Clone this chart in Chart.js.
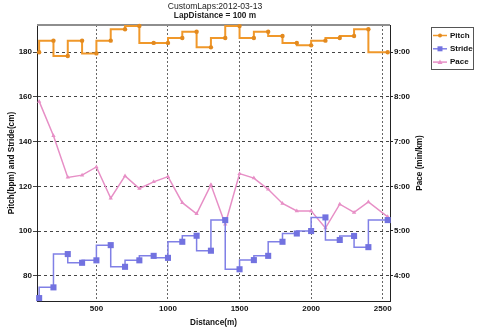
<!DOCTYPE html>
<html>
<head>
<meta charset="utf-8">
<script src="https://cdn.jsdelivr.net/npm/chart.js@4/dist/chart.umd.min.js"></script>
<style>
  html, body { margin: 0; padding: 0; background: #fff; }
</style>
</head>
<body>
<canvas id="lapChart" width="480" height="329"></canvas>
<script>
// lap end distances (m); the last lap is a partial one
const distances = [100, 200, 300, 400, 500, 600, 700, 800, 900, 1000, 1100, 1200, 1300,
  1400, 1500, 1600, 1700, 1800, 1900, 2000, 2100, 2200, 2300, 2400, 2535];
// cadence per lap (bpm)
const pitch = [180, 185.2, 178.3, 185.2, 179.5, 185.2, 190.3, 191.8, 184.2, 184.2, 186.4, 189.2, 182.2,
  186.4, 191.7, 186.4, 189.2, 187.3, 184.2, 183.1, 185.2, 186.4, 187.3, 190.3, 180];
// stride length per lap (cm)
const stride = [70, 74.8, 89.7, 85.8, 86.9, 93.7, 84, 86.9, 88.9, 88, 95.2, 97.9, 91.2,
  104.9, 82.9, 87, 88.9, 95.2, 98.9, 100, 106.1, 96, 97.8, 92.8, 104.9];
// pace per lap, seconds per km
const pace = [474, 428, 372, 375, 386, 344, 374, 357, 366, 373, 338, 323, 362,
  309, 377, 371, 356, 337, 327, 327, 304, 336, 325, 339, 319];

const distanceTicks = [500, 1000, 1500, 2000, 2500];
const leftTicks = [80, 100, 120, 140, 160, 180];
const paceTicks = [240, 300, 360, 420, 480, 540];

const titleText = 'CustomLaps:2012-03-13';
const subtitleText = 'LapDistance = 100 m';
const paceAxisTitle = 'Pace (min/km)';

const fontFamily = '"Liberation Sans", Arial, sans-serif';
const colors = {
  pitch: '#f0982a',
  pitchPoint: '#e38a1f',
  stride: '#8080e6',
  stridePoint: '#7272e0',
  pace: '#e78fc6'
};

const toPoints = values => values.map((v, i) => ({ x: distances[i], y: v }));
const fmtPace = v => Math.floor(v / 60) + ':' + String(Math.round(v % 60)).padStart(2, '0');

function drawMarker(ctx, style, x, y, color) {
  ctx.fillStyle = color;
  ctx.beginPath();
  if (style === 'circle') {
    ctx.arc(x, y, 2, 0, Math.PI * 2);
  } else if (style === 'rect') {
    ctx.rect(x - 2.5, y - 2.5, 5, 5);
  } else {
    ctx.moveTo(x, y - 2.5);
    ctx.lineTo(x + 2.5, y + 2);
    ctx.lineTo(x - 2.5, y + 2);
    ctx.closePath();
  }
  ctx.fill();
}

const lapDecor = {
  id: 'lapDecor',
  beforeDatasetsDraw(chart) {
    const { ctx, chartArea: a } = chart;
    ctx.save();
    ctx.strokeStyle = '#8e8e8e';
    ctx.lineWidth = 2;
    ctx.beginPath();
    ctx.moveTo(a.left, a.top);
    ctx.lineTo(a.right, a.top);
    ctx.stroke();
    ctx.restore();
  },
  afterDraw(chart) {
    const { ctx, chartArea: a } = chart;

    // right axis title reads bottom to top
    ctx.save();
    ctx.font = 'bold 8.2px ' + fontFamily;
    ctx.fillStyle = '#111';
    ctx.textAlign = 'center';
    ctx.textBaseline = 'middle';
    ctx.translate(a.right + 30, (a.top + a.bottom) / 2);
    ctx.rotate(-Math.PI / 2);
    ctx.fillText(paceAxisTitle, 0, 0);
    ctx.restore();

    // boxed legend
    const bx = a.right + 41, by = a.top + 2, bw = 42, bh = 42;
    ctx.save();
    ctx.strokeStyle = '#555';
    ctx.lineWidth = 1;
    ctx.strokeRect(bx + 0.5, by + 0.5, bw, bh);
    ctx.font = 'bold 8px ' + fontFamily;
    ctx.textBaseline = 'middle';
    chart.data.datasets.forEach((ds, i) => {
      const y = by + 8.5 + i * 13.3;
      ctx.strokeStyle = ds.borderColor;
      ctx.lineWidth = 1.5;
      ctx.beginPath();
      ctx.moveTo(bx + 2, y);
      ctx.lineTo(bx + 16, y);
      ctx.stroke();
      drawMarker(ctx, ds.pointStyle, bx + 9, y, ds.pointBackgroundColor);
      ctx.fillStyle = '#111';
      ctx.fillText(ds.label, bx + 19, y);
    });
    ctx.restore();
  }
};

const tickFont = { family: fontFamily, size: 8, weight: 'bold' };
const axisTitleFont = { family: fontFamily, size: 8.2, weight: 'bold' };

new Chart(document.getElementById('lapChart'), {
  type: 'line',
  data: {
    datasets: [
      {
        label: 'Pitch',
        data: toPoints(pitch),
        yAxisID: 'y',
        stepped: 'after',
        borderColor: colors.pitch,
        borderWidth: 2,
        pointStyle: 'circle',
        pointRadius: 2.2,
        pointBorderWidth: 0,
        pointBackgroundColor: colors.pitchPoint,
        clip: 4
      },
      {
        label: 'Stride',
        data: toPoints(stride),
        yAxisID: 'y',
        stepped: 'after',
        borderColor: colors.stride,
        borderWidth: 1.5,
        pointStyle: 'rect',
        pointRadius: 4.3,
        pointBorderWidth: 0,
        pointBackgroundColor: colors.stridePoint,
        clip: 5
      },
      {
        label: 'Pace',
        data: toPoints(pace),
        yAxisID: 'y1',
        borderColor: colors.pace,
        borderWidth: 1.5,
        tension: 0,
        pointStyle: 'triangle',
        pointRadius: 2.5,
        pointBorderWidth: 0,
        pointBackgroundColor: colors.pace,
        clip: 4
      }
    ]
  },
  options: {
    responsive: false,
    animation: false,
    devicePixelRatio: 1,
    layout: { padding: { left: 0, right: 50, top: 0, bottom: 0 } },
    plugins: {
      legend: { display: false },
      tooltip: { enabled: false },
      title: {
        display: true,
        text: titleText,
        color: '#222',
        font: { family: fontFamily, size: 8.6, weight: 'normal', lineHeight: 1 },
        padding: { top: 2, bottom: 0 }
      },
      subtitle: {
        display: true,
        text: subtitleText,
        color: '#222',
        font: { family: fontFamily, size: 8.3, weight: 'bold', lineHeight: 1 },
        padding: { top: 1.4, bottom: 4.7 }
      }
    },
    scales: {
      x: {
        type: 'linear',
        min: 85,
        max: 2551,
        afterBuildTicks: axis => { axis.ticks = distanceTicks.map(v => ({ value: v })); },
        afterFit: axis => { axis.height = 28; },
        ticks: { font: tickFont, color: '#111', padding: 3, maxRotation: 0, callback: v => String(v) },
        grid: { color: '#666', lineWidth: 1, drawTicks: false },
        border: { display: true, color: '#222', width: 1, dash: [2, 2] },
        title: {
          display: true,
          text: 'Distance(m)',
          color: '#111',
          font: axisTitleFont,
          padding: { top: 0, bottom: 1 }
        }
      },
      y: {
        position: 'left',
        min: 68.7,
        max: 192.2,
        afterBuildTicks: axis => { axis.ticks = leftTicks.map(v => ({ value: v })); },
        afterFit: axis => { axis.width = 37; },
        ticks: { font: tickFont, color: '#111', padding: 1 },
        grid: { color: '#444', lineWidth: 1, drawTicks: true, tickLength: 4, tickBorderDash: [] },
        border: { display: true, color: '#222', width: 1, dash: [3, 3] },
        title: {
          display: true,
          text: 'Pitch(bpm) and Stride(cm)',
          color: '#111',
          font: axisTitleFont,
          padding: { top: 7, bottom: 0 }
        }
      },
      y1: {
        position: 'right',
        min: 206,
        max: 576.6,
        afterBuildTicks: axis => { axis.ticks = paceTicks.map(v => ({ value: v })); },
        afterFit: axis => { axis.width = 40; },
        ticks: { font: tickFont, color: '#111', padding: 1, callback: v => fmtPace(v) },
        grid: { drawOnChartArea: false, color: '#222', drawTicks: true, tickLength: 3 },
        border: { display: true, color: '#222', width: 1 }
      }
    }
  },
  plugins: [lapDecor]
});
</script>
</body>
</html>
